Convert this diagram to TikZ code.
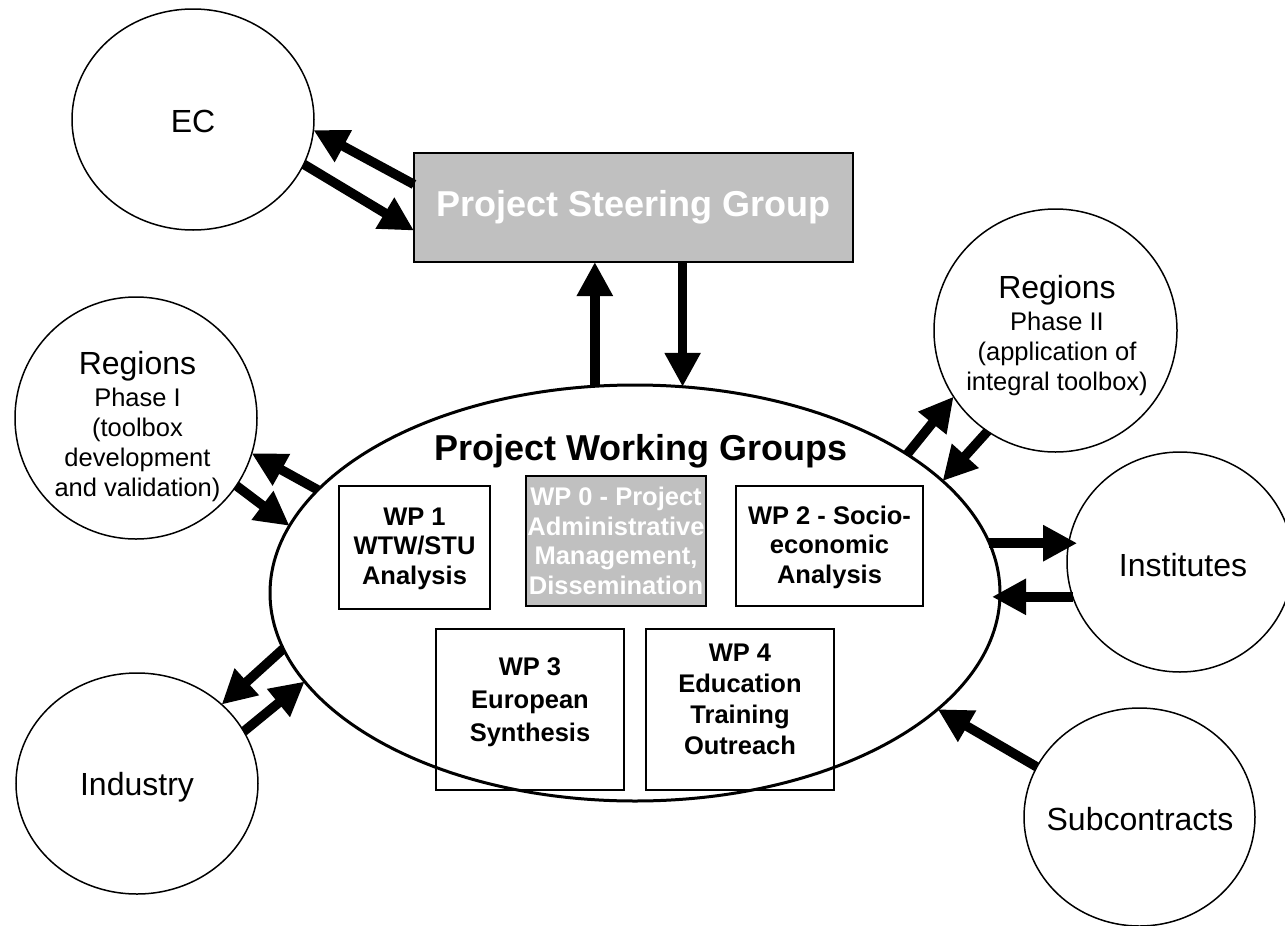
\documentclass[tikz,border=0pt]{standalone}
\usepackage{fontspec}
\setmainfont{Liberation Sans}
\usetikzlibrary{arrows.meta,shapes.geometric}
\definecolor{psgray}{HTML}{C0C0C0}
\begin{document}
\begin{tikzpicture}[x=1pt,y=-1pt,
  bubble/.style={draw, ellipse, line width=1.5pt, inner sep=0pt, outer sep=0pt},
  biglabel/.style={inner sep=0pt, font=\fontsize{32}{32}\selectfont},
  smalllabel/.style={inner sep=0pt, align=center, font=\fontsize{25.5}{30}\selectfont},
  wpbox/.style={draw, line width=1.5pt, inner sep=0pt, outer sep=0pt},
  graybox/.style={wpbox, fill=psgray},
  wptext/.style={inner sep=0pt, align=center, font=\bfseries\fontsize{25.5}{29.5}\selectfont},
  titletext/.style={font=\bfseries\fontsize{36}{40}\selectfont},
  bigarrow/.style={line width=9.5pt, -{Triangle[length=34pt,width=34pt]}}
]
\useasboundingbox (0,0) rectangle (1285,926);

% main ellipse
\node[draw, ellipse, line width=3pt, inner sep=0pt, outer sep=0pt,
  minimum width=730pt, minimum height=416pt] (pwg) at (635,593) {};
\node[titletext, inner sep=0pt, anchor=base] (pwgt) at (641,460) {Project Working Groups};

% steering group
\node[graybox, titletext, text=white, minimum width=439pt, minimum height=109pt] (psg) at (633.5,207.5) {Project Steering Group};

% work packages
\node[wpbox, minimum width=151pt, minimum height=123pt] (wp1) at (414.5,547.5) {};
\node[wptext] (wp1t) at (414.5,548.5) {WP 1\\WTW/STU\\Analysis};
\node[graybox, minimum width=180pt, minimum height=130pt] (wp0) at (616,541) {};
\node[wptext, text=white] (wp0t) at (616,541) {WP 0 - Project\\Administrative\\Management,\\Dissemination};
\node[wpbox, minimum width=187pt, minimum height=120pt] (wp2) at (829.5,546) {};
\node[wptext] (wp2t) at (829.5,547) {WP 2 - Socio-\\economic\\Analysis};
\node[wpbox, minimum width=188pt, minimum height=161pt] (wp3) at (530,709.5) {};
\node[wptext, font=\bfseries\fontsize{25.5}{33}\selectfont] (wp3t) at (530,702) {WP 3\\European\\Synthesis};
\node[wpbox, minimum width=188pt, minimum height=161pt] (wp4) at (740,709.5) {};
\node[wptext, font=\bfseries\fontsize{25.5}{31}\selectfont] (wp4t) at (740,699) {WP 4\\Education\\Training\\Outreach};

% outer bubbles
\node[bubble, minimum width=242pt, minimum height=221pt] (ec) at (193,119.5) {};
\node[biglabel, anchor=base] (ect) at (193,132) {EC};
\node[bubble, minimum width=242pt, minimum height=242pt] (ph1) at (136,418) {};
\node[smalllabel] (ph1t) at (137.5,426.5) {{\fontsize{32}{30}\selectfont Regions}\\[2pt]Phase I\\(toolbox\\development\\and validation)};
\node[bubble, minimum width=243pt, minimum height=243pt] (ph2) at (1055.5,330.5) {};
\node[smalllabel] (ph2t) at (1057,336) {{\fontsize{32}{30}\selectfont Regions}\\[2pt]Phase II\\(application of\\integral toolbox)};
\node[bubble, minimum width=226pt, minimum height=220pt] (inst) at (1180,562) {};
\node[biglabel, anchor=base] (instt) at (1183,576.5) {Institutes};
\node[bubble, minimum width=242pt, minimum height=221pt] (ind) at (137,783.5) {};
\node[biglabel, anchor=base] (indt) at (137,795.5) {Industry};
\node[bubble, minimum width=231pt, minimum height=218pt] (sub) at (1139.5,817) {};
\node[biglabel, anchor=base] (subt) at (1140,830.5) {Subcontracts};

% arrows
\draw[bigarrow] (psg.174.7) -- (ec.-5.85);
\draw[bigarrow] (ec.-22.5) -- (psg.186.1);
\draw[bigarrow] (pwg.101.4) -- (pwg.101.4 |- psg.south);
\draw[bigarrow] (psg.south -| pwg.77.5) -- (pwg.77.5);
\draw[bigarrow] (pwg.162.5) -- (ph1.343.4);
\draw[bigarrow] (ph1.-34.3) -- (pwg.169.2);
\draw[bigarrow] (pwg.189.6) -- (ind.43.7);
\draw[bigarrow] (ind.26.2) -- (pwg.195.8);
\draw[bigarrow] (pwg.27.8) -- (ph2.213.9);
\draw[bigarrow] (ph2.236.4) -- (pwg.20.1);
\draw[bigarrow, shorten >=-8pt] (pwg.8.3) -- (pwg.8.3 -| inst.169);
\draw[bigarrow, shorten >=-8pt] (inst.198.6) -- (inst.198.6 -| pwg.east);
\draw[bigarrow] (sub.154) -- (pwg.339.6);
\end{tikzpicture}
\end{document}
